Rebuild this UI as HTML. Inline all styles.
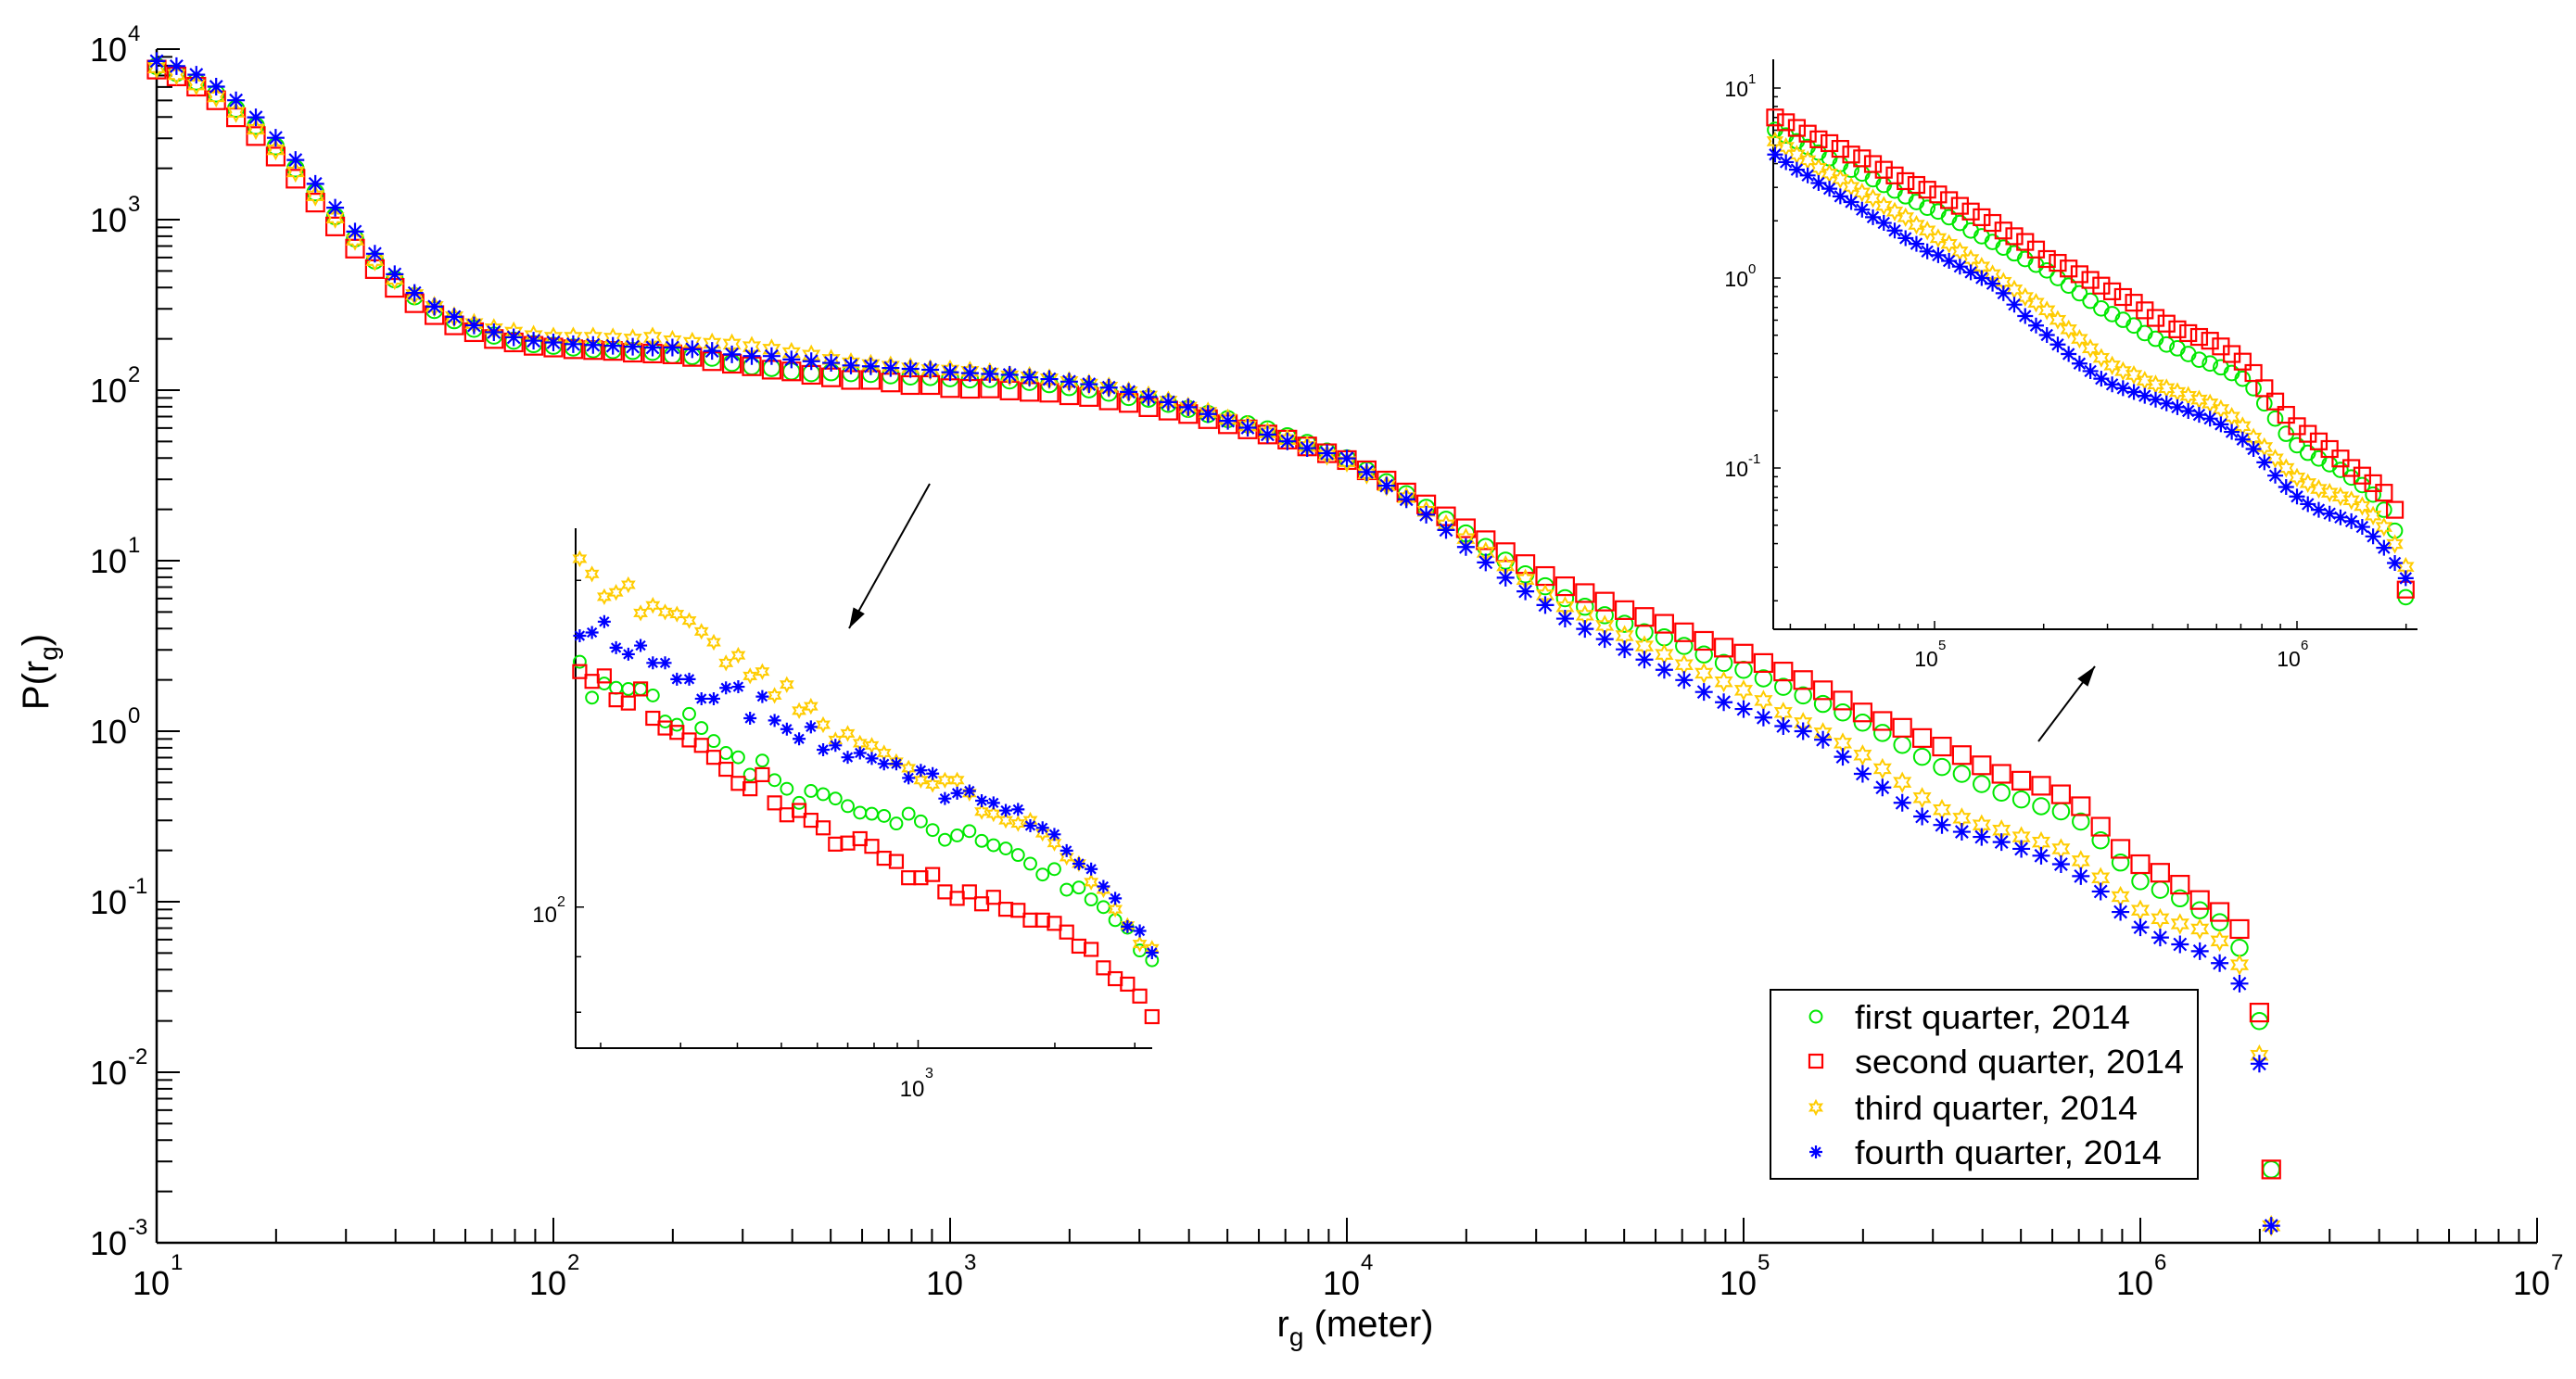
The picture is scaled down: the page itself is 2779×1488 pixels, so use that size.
<!DOCTYPE html>
<html><head><meta charset="utf-8"><title>P(rg) distribution</title>
<style>
html,body{margin:0;padding:0;background:#fff;}
svg{display:block;font-family:"Liberation Sans",Arial,sans-serif;}
</style></head>
<body>
<svg id="chart" xmlns="http://www.w3.org/2000/svg" width="2779" height="1488" viewBox="0 0 2779 1488">
<rect width="2779" height="1488" fill="#fff"/>
</svg>
<script>
// ---------- data (log10 values) ----------
const seriesNames = ["first quarter, 2014","second quarter, 2014","third quarter, 2014","fourth quarter, 2014"];
const xTickExps = [1,2,3,4,5,6,7];
const yTickExps = [-3,-2,-1,0,1,2,3,4];

const mainLogR = [1.00,1.05,1.10,1.15,1.20,1.25,1.30,1.35,1.40,1.45,
1.50,1.55,1.60,1.65,1.70,1.75,1.80,1.85,1.90,1.95,
2.00,2.05,2.10,2.15,2.20,2.25,2.30,2.35,2.40,2.45,
2.50,2.55,2.60,2.65,2.70,2.75,2.80,2.85,2.90,2.95,
3.00,3.05,3.10,3.15,3.20,3.25,3.30,3.35,3.40,3.45,
3.50,3.55,3.60,3.65,3.70,3.75,3.80,3.85,3.90,3.95,
4.00,4.05,4.10,4.15,4.20,4.25,4.30,4.35,4.40,4.45,
4.50,4.55,4.60,4.65,4.70,4.75,4.80,4.85,4.90,4.95,
5.00,5.05,5.10,5.15,5.20,5.25,5.30,5.35,5.40,5.45,
5.50,5.55,5.60,5.65,5.70,5.75,5.80,5.85,5.90,5.95,
6.00,6.05,6.10,6.15,6.20,6.25,6.30,6.33];

const mainQ1 = [3.90,3.86,3.81,3.74,3.65,3.55,3.43,3.30,3.16,3.02,
2.89,2.76,2.65,2.55,2.47,2.41,2.36,2.32,2.29,2.27,
2.26,2.25,2.24,2.235,2.23,2.225,2.205,2.20,2.19,2.16,
2.14,2.13,2.11,2.10,2.105,2.10,2.095,2.087,2.08,2.077,
2.07,2.063,2.065,2.057,2.048,2.035,2.018,2.005,1.985,1.96,
1.95,1.92,1.89,1.86,1.83,1.80,1.77,1.73,1.69,1.64,
1.60,1.53,1.46,1.39,1.31,1.24,1.16,1.08,1.00,0.92,
0.85,0.78,0.73,0.68,0.63,0.58,0.55,0.50,0.45,0.40,
0.36,0.31,0.26,0.21,0.16,0.11,0.05,-0.01,-0.08,-0.15,
-0.21,-0.25,-0.31,-0.36,-0.40,-0.44,-0.47,-0.53,-0.64,-0.77,
-0.88,-0.93,-0.98,-1.05,-1.12,-1.27,-1.70,-2.57];

const mainQ2 = [3.88,3.84,3.78,3.70,3.60,3.49,3.37,3.24,3.10,2.96,
2.83,2.71,2.60,2.51,2.44,2.38,2.34,2.30,2.28,2.26,
2.25,2.24,2.235,2.23,2.22,2.215,2.21,2.195,2.17,2.155,
2.14,2.12,2.11,2.09,2.075,2.06,2.06,2.045,2.03,2.03,
2.012,2.008,2.01,1.998,1.99,1.985,1.97,1.96,1.94,1.925,
1.90,1.88,1.86,1.83,1.80,1.77,1.74,1.71,1.67,1.63,
1.59,1.53,1.47,1.40,1.33,1.26,1.19,1.12,1.05,0.98,
0.91,0.85,0.81,0.76,0.71,0.67,0.63,0.58,0.53,0.49,
0.455,0.40,0.35,0.30,0.24,0.18,0.11,0.06,0.02,-0.04,
-0.09,-0.14,-0.20,-0.25,-0.29,-0.32,-0.37,-0.44,-0.56,-0.69,
-0.78,-0.83,-0.90,-0.99,-1.06,-1.16,-1.65,-2.57];

const mainQ3 = [3.89,3.85,3.79,3.72,3.63,3.53,3.41,3.28,3.14,3.01,
2.88,2.76,2.65,2.56,2.49,2.43,2.39,2.36,2.34,2.32,
2.31,2.31,2.31,2.305,2.30,2.31,2.29,2.28,2.275,2.27,
2.255,2.24,2.22,2.205,2.18,2.16,2.15,2.14,2.13,2.12,
2.117,2.11,2.10,2.084,2.078,2.066,2.05,2.035,2.017,1.99,
1.965,1.935,1.90,1.87,1.83,1.79,1.75,1.71,1.67,1.62,
1.58,1.51,1.44,1.37,1.29,1.21,1.13,1.05,0.97,0.89,
0.80,0.73,0.68,0.62,0.56,0.50,0.45,0.39,0.34,0.29,
0.24,0.18,0.11,0.05,-0.01,-0.07,-0.14,-0.22,-0.30,-0.39,
-0.46,-0.51,-0.55,-0.58,-0.62,-0.65,-0.69,-0.76,-0.86,-0.97,
-1.05,-1.10,-1.13,-1.16,-1.23,-1.37,-1.90,-2.90];

const mainQ4 = [3.93,3.90,3.85,3.78,3.70,3.60,3.48,3.35,3.21,3.07,
2.93,2.80,2.68,2.57,2.49,2.43,2.38,2.34,2.31,2.29,
2.28,2.27,2.265,2.26,2.255,2.25,2.25,2.24,2.23,2.21,
2.20,2.20,2.18,2.17,2.16,2.145,2.14,2.13,2.125,2.12,
2.105,2.10,2.095,2.09,2.075,2.065,2.05,2.035,2.015,1.99,
1.96,1.93,1.90,1.86,1.82,1.78,1.74,1.70,1.66,1.63,
1.60,1.52,1.44,1.36,1.27,1.18,1.08,0.99,0.90,0.82,
0.74,0.66,0.60,0.54,0.48,0.42,0.36,0.30,0.23,0.17,
0.13,0.08,0.03,0.00,-0.05,-0.15,-0.25,-0.33,-0.42,-0.50,
-0.55,-0.59,-0.62,-0.65,-0.69,-0.73,-0.78,-0.85,-0.94,-1.06,
-1.15,-1.21,-1.25,-1.29,-1.36,-1.48,-1.95,-2.90];

// inset 1 (zoom on 10^2.25 .. 10^3.5)
const in1LogR = [2.255,2.282,2.309,2.335,2.362,2.389,2.416,2.443,2.469,2.496,2.523,2.550,2.577,2.604,2.630,2.657,2.684,2.711,2.738,2.764,2.791,2.818,2.845,2.872,2.898,2.925,2.952,2.979,3.006,3.032,3.059,3.086,3.113,3.140,3.166,3.193,3.220,3.247,3.274,3.300,3.327,3.354,3.381,3.408,3.434,3.461,3.488,3.515];
const in1Q1 = [2.226,2.193,2.206,2.202,2.201,2.201,2.195,2.171,2.168,2.178,2.165,2.153,2.142,2.138,2.122,2.135,2.117,2.109,2.096,2.107,2.104,2.100,2.093,2.087,2.086,2.084,2.077,2.086,2.079,2.071,2.062,2.066,2.070,2.061,2.057,2.054,2.048,2.040,2.030,2.035,2.016,2.018,2.007,2.000,1.988,1.981,1.960,1.951];
const in1Q2 = [2.217,2.208,2.213,2.191,2.188,2.201,2.174,2.165,2.161,2.154,2.149,2.138,2.127,2.114,2.109,2.122,2.096,2.085,2.089,2.080,2.073,2.058,2.059,2.063,2.056,2.045,2.042,2.027,2.027,2.030,2.014,2.008,2.014,2.003,2.009,1.998,1.997,1.988,1.988,1.985,1.977,1.964,1.961,1.944,1.934,1.929,1.918,1.899];
const in1Q3 = [2.321,2.307,2.286,2.290,2.297,2.271,2.278,2.272,2.270,2.264,2.254,2.244,2.225,2.232,2.213,2.217,2.195,2.205,2.181,2.185,2.168,2.154,2.160,2.151,2.149,2.142,2.134,2.128,2.117,2.113,2.117,2.117,2.105,2.088,2.086,2.080,2.077,2.080,2.068,2.059,2.046,2.040,2.023,2.016,1.998,1.983,1.966,1.962];
const in1Q4 = [2.250,2.253,2.263,2.239,2.233,2.241,2.225,2.225,2.210,2.210,2.192,2.192,2.202,2.203,2.174,2.194,2.172,2.164,2.155,2.166,2.145,2.149,2.138,2.142,2.137,2.132,2.132,2.119,2.126,2.123,2.100,2.105,2.107,2.098,2.096,2.089,2.090,2.075,2.073,2.067,2.052,2.040,2.035,2.019,2.008,1.982,1.978,1.958];

// inset 2 (zoom on 10^4.56 .. 10^6.3)
const in2LogR = [4.56,4.59,4.62,4.65,4.68,4.71,4.74,4.77,4.80,4.83,4.86,4.89,4.92,4.95,4.98,5.01,5.04,5.07,5.10,5.13,5.16,5.19,5.22,5.25,5.28,5.31,5.34,5.37,5.40,5.43,5.46,5.49,5.52,5.55,5.58,5.61,5.64,5.67,5.70,5.73,5.76,5.79,5.82,5.85,5.88,5.91,5.94,5.97,6.00,6.03,6.06,6.09,6.12,6.15,6.18,6.21,6.24,6.27,6.30];
const in2Q1 = [0.78,0.75,0.72,0.69,0.66,0.63,0.60,0.57,0.55,0.52,0.49,0.46,0.43,0.40,0.37,0.35,0.32,0.29,0.25,0.22,0.19,0.16,0.13,0.10,0.07,0.04,0.00,-0.04,-0.08,-0.12,-0.16,-0.19,-0.22,-0.25,-0.29,-0.32,-0.35,-0.37,-0.40,-0.43,-0.45,-0.47,-0.50,-0.53,-0.58,-0.66,-0.74,-0.82,-0.88,-0.92,-0.95,-0.98,-1.01,-1.05,-1.09,-1.14,-1.22,-1.33,-1.68];
const in2Q2 = [0.845,0.82,0.79,0.76,0.73,0.71,0.68,0.65,0.63,0.60,0.57,0.54,0.51,0.49,0.465,0.44,0.41,0.38,0.35,0.32,0.29,0.25,0.22,0.19,0.15,0.10,0.08,0.05,0.02,-0.01,-0.04,-0.07,-0.10,-0.13,-0.17,-0.21,-0.24,-0.27,-0.29,-0.31,-0.33,-0.36,-0.40,-0.44,-0.50,-0.58,-0.65,-0.72,-0.78,-0.82,-0.86,-0.90,-0.95,-1.00,-1.04,-1.08,-1.13,-1.22,-1.64];
const in2Q3 = [0.72,0.69,0.65,0.62,0.58,0.55,0.52,0.48,0.45,0.42,0.38,0.35,0.32,0.28,0.25,0.21,0.18,0.14,0.10,0.06,0.02,-0.02,-0.06,-0.10,-0.13,-0.17,-0.22,-0.27,-0.32,-0.37,-0.42,-0.46,-0.49,-0.51,-0.54,-0.56,-0.58,-0.60,-0.62,-0.64,-0.66,-0.69,-0.73,-0.78,-0.84,-0.89,-0.95,-1.00,-1.05,-1.08,-1.11,-1.13,-1.15,-1.17,-1.20,-1.25,-1.31,-1.40,-1.52];
const in2Q4 = [0.65,0.61,0.57,0.54,0.50,0.47,0.43,0.40,0.36,0.32,0.29,0.25,0.21,0.18,0.14,0.12,0.09,0.06,0.03,0.00,-0.03,-0.08,-0.14,-0.20,-0.25,-0.30,-0.35,-0.40,-0.45,-0.49,-0.53,-0.56,-0.58,-0.60,-0.62,-0.64,-0.66,-0.68,-0.70,-0.72,-0.74,-0.77,-0.81,-0.85,-0.90,-0.97,-1.04,-1.10,-1.15,-1.19,-1.22,-1.24,-1.26,-1.28,-1.31,-1.36,-1.42,-1.50,-1.58];

// ---------- rendering ----------
const NS = "http://www.w3.org/2000/svg";
const svg = document.getElementById("chart");
function el(tag, parent, attrs){
  const e = document.createElementNS(NS, tag);
  for (const k in attrs) e.setAttribute(k, attrs[k]);
  parent.appendChild(e);
  return e;
}
const COLORS = ["#00e800","#ff0000","#ffcc00","#0000ff"];
const KINDS = ["circle","square","star","asterisk"];

function drawMarker(g, kind, color, cx, cy, s){
  const h = s/2;
  let m;
  if (kind === "circle") {
    m = el("circle", g, {cx:cx, cy:cy, r:h*0.92, fill:"none", stroke:color, "stroke-width":2});
  } else if (kind === "square") {
    m = el("rect", g, {x:cx-h, y:cy-h, width:s, height:s, fill:"none", stroke:color, "stroke-width":2.2});
  } else if (kind === "star") {
    let pts = [];
    for (let i=0;i<12;i++){
      const a = -Math.PI/2 + i*Math.PI/6;
      const r = (i%2===0)? h : h*0.55;
      pts.push((cx+r*Math.cos(a)).toFixed(1)+","+(cy+r*Math.sin(a)).toFixed(1));
    }
    m = el("polygon", g, {points:pts.join(" "), fill:"none", stroke:color, "stroke-width":2});
  } else {
    const d = `M${cx-h},${cy}H${cx+h}M${cx},${cy-h}V${cy+h}M${cx-h*0.7},${cy-h*0.7}L${cx+h*0.7},${cy+h*0.7}M${cx-h*0.7},${cy+h*0.7}L${cx+h*0.7},${cy-h*0.7}`;
    m = el("path", g, {d:d, fill:"none", stroke:color, "stroke-width":2.2});
  }
  return m;
}

// ---- main axes ----
const MX0 = 169, MDX = 428, MY0 = 53, MDY = 184;
function mx(lr){ return MX0 + (lr-1)*MDX; }
function my(lp){ return MY0 + (4-lp)*MDY; }

const axes = el("g", svg, {});


const yAxisLine = el("line", axes, {x1:MX0, y1:MY0, x2:MX0, y2:my(-3), stroke:"#000", "stroke-width":2.5});


const xAxisLine = el("line", axes, {x1:MX0, y1:my(-3), x2:mx(7), y2:my(-3), stroke:"#000", "stroke-width":2.5});



// y ticks
for (let e=yTickExps[0]; e<=yTickExps[yTickExps.length-1]; e++){
  const y = my(e);
  el("line", axes, {x1:MX0, y1:y, x2:MX0+25, y2:y, stroke:"#000", "stroke-width":2});
  if (e < yTickExps[yTickExps.length-1]) {
    for (let k=2;k<=9;k++){
      const yy = my(e+Math.log10(k));
      el("line", axes, {x1:MX0, y1:yy, x2:MX0+17, y2:yy, stroke:"#000", "stroke-width":2});
    }
  }
}
yTickExps.forEach(e=>{
  const y = my(e);
  const t = el("text", axes, {x:137, y:y+13, "font-size":36, "text-anchor":"end", fill:"#000"});
  t.textContent = "10";
  
  
  const s = el("text", axes, {x:138, y:y-9, "font-size":24, fill:"#000"});
  s.textContent = String(e);
});
// x ticks
for (let e=xTickExps[0]; e<=xTickExps[xTickExps.length-1]; e++){
  const x = mx(e), yb = my(-3);
  el("line", axes, {x1:x, y1:yb, x2:x, y2:yb-27, stroke:"#000", "stroke-width":2});
  if (e < xTickExps[xTickExps.length-1]) {
    for (let k=2;k<=9;k++){
      const xx = mx(e+Math.log10(k));
      el("line", axes, {x1:xx, y1:yb, x2:xx, y2:yb-15, stroke:"#000", "stroke-width":2});
    }
  }
}
xTickExps.forEach(e=>{
  const x = mx(e);
  const t = el("text", axes, {x:x-6, y:1397, "font-size":36, "text-anchor":"middle", fill:"#000"});
  t.textContent = "10";
  
  
  const s = el("text", axes, {x:x+15, y:1370, "font-size":24, fill:"#000"});
  s.textContent = String(e);
});
// axis titles
const xt = el("text", svg, {x:1462, y:1442, "font-size":40, "text-anchor":"middle", fill:"#000"});
xt.innerHTML = 'r<tspan dy="10" font-size="28">g</tspan><tspan dy="-10"> (meter)</tspan>';


const yt = el("text", svg, {x:0, y:0, "font-size":40, "text-anchor":"middle", fill:"#000", transform:"translate(52,725) rotate(-90)"});
yt.innerHTML = 'P(r<tspan dy="10" font-size="28">g</tspan><tspan dy="-10">)</tspan>';



// main series
const mainSeries = [mainQ1, mainQ2, mainQ3, mainQ4];
mainSeries.forEach((vals, si)=>{
  const g = el("g", svg, {});
  
  
  vals.forEach((v,i)=>{
    const m = drawMarker(g, KINDS[si], COLORS[si], mx(mainLogR[i]), my(v), 19);
    
    
  });
});

// ---- inset 1 ----
const I1L=621, I1R=1243, I1T=570, I1B=1131, I1X0=2.246, I1DX=490, I1Y0=1.870, I1DY=1171;
function i1x(lr){ return I1L + (lr-I1X0)*I1DX; }
function i1y(lp){ return I1B - (lp-I1Y0)*I1DY; }
const in1 = el("g", svg, {});


el("rect", in1, {x:I1L, y:I1T, width:I1R-I1L, height:I1B-I1T, fill:"#fff"});
el("line", in1, {x1:I1L, y1:I1T, x2:I1L, y2:I1B, stroke:"#000", "stroke-width":2});
el("line", in1, {x1:I1L, y1:I1B, x2:I1R, y2:I1B, stroke:"#000", "stroke-width":2});
[[Math.log10(80),6],[Math.log10(90),6],[2,9],[Math.log10(200),6]].forEach(([lp,len])=>{
  const y=i1y(lp); el("line", in1, {x1:I1L, y1:y, x2:I1L+len, y2:y, stroke:"#000", "stroke-width":1.5});
});
[200,300,400,500,600,700,800,900,1000,2000,3000].forEach(v=>{
  const x=i1x(Math.log10(v)); const len = v===1000?9:6;
  el("line", in1, {x1:x, y1:I1B, x2:x, y2:I1B-len, stroke:"#000", "stroke-width":1.5});
});
{
  const t=el("text", in1, {x:601, y:995, "font-size":24, "text-anchor":"end"}); t.textContent="10";
  
  
  const s=el("text", in1, {x:601, y:978, "font-size":16}); s.textContent="2";
  const t2=el("text", in1, {x:984, y:1183, "font-size":24, "text-anchor":"middle"}); t2.textContent="10";
  
  
  const s2=el("text", in1, {x:998, y:1163, "font-size":16}); s2.textContent="3";
}
[in1Q1,in1Q2,in1Q3,in1Q4].forEach((vals,si)=>{
  const g = el("g", in1, {});
  
  
  vals.forEach((v,i)=>{
    const m = drawMarker(g, KINDS[si], COLORS[si], i1x(in1LogR[i]), i1y(v), 14);
    
    
  });
});

// ---- inset 2 ----
const I2L=1913, I2R=2608, I2T=64, I2B=679;
function i2x(lr){ return 2087 + (lr-5)*391; }
function i2y(lp){ return 300 - lp*205; }
const in2 = el("g", svg, {});


el("rect", in2, {x:I2L, y:I2T, width:I2R-I2L, height:I2B-I2T, fill:"#fff"});
el("line", in2, {x1:I2L, y1:I2T, x2:I2L, y2:I2B, stroke:"#000", "stroke-width":2});
el("line", in2, {x1:I2L, y1:I2B, x2:I2R, y2:I2B, stroke:"#000", "stroke-width":2});
for (let e=-2;e<=1;e++){
  for (let k=1;k<=9;k++){
    const lp=e+Math.log10(k); const y=i2y(lp);
    if (y<I2T||y>I2B) continue;
    el("line", in2, {x1:I2L, y1:y, x2:I2L+(k===1?8:5), y2:y, stroke:"#000", "stroke-width":1.5});
  }
}
for (let e=4;e<=6;e++){
  for (let k=1;k<=9;k++){
    const x=i2x(e+Math.log10(k));
    if (x<I2L||x>I2R) continue;
    el("line", in2, {x1:x, y1:I2B, x2:x, y2:I2B-(k===1?9:6), stroke:"#000", "stroke-width":1.5});
  }
}
[1,0,-1].forEach(e=>{
  const y=i2y(e);
  const t=el("text", in2, {x:1886, y:y+9, "font-size":23, "text-anchor":"end"}); t.textContent="10";
  
  
  const s=el("text", in2, {x:1886, y:y-5, "font-size":15}); s.textContent=String(e);
});
[5,6].forEach(e=>{
  const x=i2x(e);
  const t=el("text", in2, {x:x-9, y:719, "font-size":23, "text-anchor":"middle"}); t.textContent="10";
  
  
  const s=el("text", in2, {x:x+4, y:701, "font-size":15}); s.textContent=String(e);
});
[in2Q1,in2Q2,in2Q3,in2Q4].forEach((vals,si)=>{
  const g = el("g", in2, {});
  
  
  vals.forEach((v,i)=>{
    const m = drawMarker(g, KINDS[si], COLORS[si], i2x(in2LogR[i]), i2y(v), 17);
    
    
  });
});

// ---- arrows ----
function arrow(name, x1,y1,x2,y2){
  const g = el("g", svg, {});
  
  
  el("line", g, {x1:x1,y1:y1,x2:x2,y2:y2, stroke:"#000", "stroke-width":2});
  const a = Math.atan2(y2-y1, x2-x1), L=22, W=7;
  const bx = x2 - L*Math.cos(a), by = y2 - L*Math.sin(a);
  const p = [[x2,y2],[bx+W*Math.sin(a), by-W*Math.cos(a)],[bx-W*Math.sin(a), by+W*Math.cos(a)]];
  el("polygon", g, {points:p.map(q=>q.join(",")).join(" "), fill:"#000"});
}
arrow("arrow-to-inset1", 1003, 522, 916, 678);
arrow("arrow-to-inset2", 2199, 800, 2260, 719);

// ---- legend ----
const leg = el("g", svg, {});


el("rect", leg, {x:1910, y:1068, width:461, height:204, fill:"#fff", stroke:"#000", "stroke-width":2});
const rowY = [1097,1145,1195,1243];
seriesNames.forEach((n,i)=>{
  const g = el("g", leg, {});
  
  
  drawMarker(g, KINDS[i], COLORS[i], 1959, rowY[i], 14);
  const t = el("text", g, {x:2001, y:rowY[i]+13, "font-size":36, fill:"#000", textLength: [297,355,305,331][i], lengthAdjust:"spacingAndGlyphs"});
  t.textContent = n;
});
</script>
</body></html>
